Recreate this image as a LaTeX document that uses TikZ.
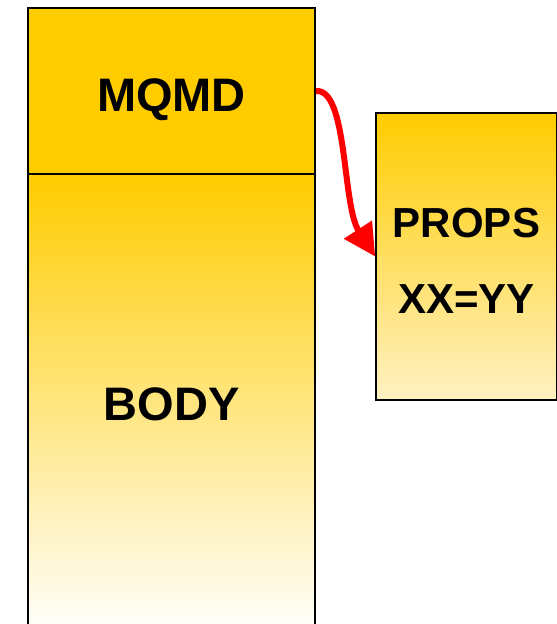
\documentclass[tikz,border=0pt]{standalone}
\usepackage{fontspec}
\setmainfont{Liberation Sans}
\usetikzlibrary{arrows.meta}
\definecolor{gold}{HTML}{FFCC00}
\definecolor{paleGold}{HTML}{FFF1C2}
\begin{document}
\begin{tikzpicture}[x=1pt,y=-1pt,
  block/.style={draw=black,line width=1.6pt,inner sep=0pt},
  caption/.style={inner sep=0pt,font=\bfseries\fontsize{47}{50}\selectfont},
  link/.style={draw=red,line width=6pt,-{Triangle[length=32pt,width=32pt]}}]
  \useasboundingbox (0,0) rectangle (557,624);
  % message body, fading towards the bottom
  \node[block,top color=gold,bottom color=white,minimum width=287pt,minimum height=460pt]
    (body) at (171.5,404) {};
  % message descriptor header
  \node[block,fill=gold,minimum width=287pt,minimum height=166pt]
    (mqmd) at (171.5,91) {};
  % properties box
  \node[block,top color=gold,bottom color=paleGold,minimum width=181pt,minimum height=287pt]
    (props) at (466.5,256.5) {};
  % labels
  \node[caption,anchor=base] (mqmdtext) at (171.5,111) {MQMD};
  \node[caption,anchor=base] (bodytext) at (171.5,420) {BODY};
  \node[caption,anchor=base,font=\bfseries\fontsize{42}{50}\selectfont] (propstext) at (466.5,237) {PROPS};
  \node[caption,anchor=base,font=\bfseries\fontsize{42}{50}\selectfont] (kvtext) at (466.5,313) {XX=YY};
  \draw[link] (mqmd.east) .. controls (348,88) and (342,205) .. (props.west);
\end{tikzpicture}
\end{document}
